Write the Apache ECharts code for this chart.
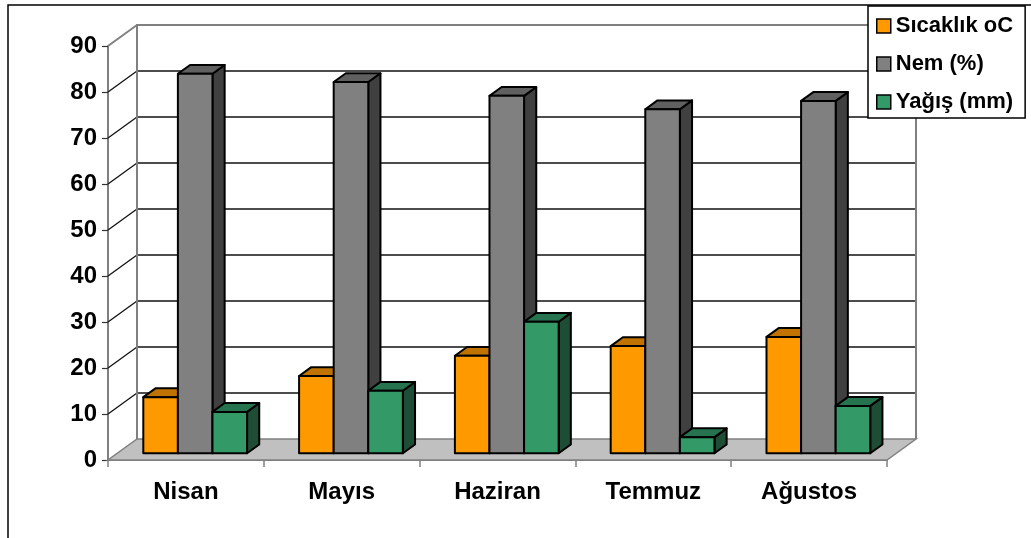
<!DOCTYPE html>
<html>
<head>
<meta charset="utf-8">
<script src="https://cdn.jsdelivr.net/npm/echarts@6/dist/echarts.min.js"></script>
<style>
  html, body { margin: 0; padding: 0; background: #fff; }
  #chart { width: 1031px; height: 538px; }
</style>
</head>
<body>
<div id="chart"></div>
<script>
// values
var months = ['Nisan', 'Mayıs', 'Haziran', 'Temmuz', 'Ağustos'];
var sicaklik = [12.2, 16.8, 21.2, 23.3, 25.3];
var nem = [82.5, 80.7, 77.7, 74.8, 76.6];
var yagis = [9.0, 13.6, 28.6, 3.5, 10.3];
var seriesNames = ['Sıcaklık oC', 'Nem (%)', 'Yağış (mm)'];
var yMin = 0, yMax = 90, yStep = 10;

// face colours: front, top, side
var faces = [
  ['#FF9900', '#C07300', '#8A5300'],
  ['#808080', '#606060', '#404040'],
  ['#339966', '#267350', '#1E4D35']
];

// 3d projection of the box (pixel offset of full depth)
var DX = 29, DY = -21;
var F0 = 0.32, F1 = 0.74;   // bar front / back depth
var FONT = '"Liberation Sans", Arial, sans-serif';

var chart = echarts.init(document.getElementById('chart'));

function barRenderer(s) {
  return function (params, api) {
    var cat = api.value(0);
    var val = api.value(1);
    var base = api.coord([cat, 0]);
    var top = api.coord([cat, val]);
    var bw = api.size([1, 0])[0];
    var barW = bw * 0.222;
    var x0 = base[0] - 1.5 * barW + s * barW;
    var x1 = x0 + barW;
    var y0 = base[1], yt = top[1];
    var c = faces[s];
    var ls = { stroke: '#000', lineWidth: 2, lineJoin: 'round' };
    return {
      type: 'group',
      children: [
        { type: 'polygon', shape: { points: [
            [x1 + F0 * DX, yt + F0 * DY], [x1 + F1 * DX, yt + F1 * DY],
            [x1 + F1 * DX, y0 + F1 * DY], [x1 + F0 * DX, y0 + F0 * DY]] },
          style: Object.assign({ fill: c[2] }, ls) },
        { type: 'polygon', shape: { points: [
            [x0 + F0 * DX, yt + F0 * DY], [x1 + F0 * DX, yt + F0 * DY],
            [x1 + F1 * DX, yt + F1 * DY], [x0 + F1 * DX, yt + F1 * DY]] },
          style: Object.assign({ fill: c[1] }, ls) },
        { type: 'rect', shape: { x: x0 + F0 * DX, y: yt + F0 * DY, width: barW, height: y0 - yt },
          style: Object.assign({ fill: c[0] }, ls) }
      ]
    };
  };
}

function wallRenderer(params, api) {
  var bw = api.size([1, 0])[0];
  var xL = api.coord([0, 0])[0] - bw / 2;
  var xR = api.coord([months.length - 1, 0])[0] + bw / 2;
  var yb = api.coord([0, yMin])[1];
  var yt = api.coord([0, yMax])[1];
  var kids = [];
  // floor
  kids.push({ type: 'polygon', shape: { points: [[xL, yb], [xR, yb], [xR + DX, yb + DY], [xL + DX, yb + DY]] },
    style: { fill: '#C0C0C0', stroke: '#808080', lineWidth: 1.5 } });
  // back wall grid + side wall diagonals
  for (var v = yMin; v <= yMax; v += yStep) {
    var y = api.coord([0, v])[1];
    if (v > yMin && v < yMax) {
      kids.push({ type: 'line', shape: { x1: xL + DX, y1: y + DY, x2: xR + DX, y2: y + DY },
        style: { stroke: '#111', lineWidth: 1.3 } });
    }
    if (v > yMin) {
      kids.push({ type: 'line', shape: { x1: xL, y1: y, x2: xL + DX, y2: y + DY },
        style: { stroke: v === yMax ? '#808080' : '#111', lineWidth: v === yMax ? 2 : 1.3 } });
    }
  }
  // wall edges
  kids.push({ type: 'polyline', shape: { points: [[xL + DX, yb + DY], [xL + DX, yt + DY], [xR + DX, yt + DY], [xR + DX, yb + DY]] },
    style: { stroke: '#808080', lineWidth: 2, fill: null } });
  return { type: 'group', children: kids };
}

var bars = [sicaklik, nem, yagis].map(function (arr, s) {
  return {
    name: seriesNames[s],
    type: 'custom',
    z: 3,
    itemStyle: { color: faces[s][0] },
    renderItem: barRenderer(s),
    encode: { x: 0, y: 1 },
    data: arr.map(function (v, i) { return [i, v]; })
  };
});

chart.setOption({
  animation: false,
  textStyle: { fontFamily: FONT },
  graphic: [{
    type: 'rect', z: -10,
    shape: { x: 8, y: 5, width: 1100, height: 600 },
    style: { fill: null, stroke: '#000', lineWidth: 1.5 }
  }],
  grid: { left: 108, right: 144, top: 46, bottom: 78 },
  legend: {
    orient: 'vertical',
    left: 868, top: 6,
    data: seriesNames,
    backgroundColor: '#fff',
    borderColor: '#000', borderWidth: 1.5,
    padding: [9, 12, 5, 8],
    itemWidth: 14, itemHeight: 14, itemGap: 16,
    icon: 'rect',
    itemStyle: { borderColor: '#000', borderWidth: 1.5 },
    textStyle: { fontFamily: FONT, fontWeight: 'bold', fontSize: 22, lineHeight: 20, color: '#000' }
  },
  xAxis: {
    type: 'category',
    data: months,
    axisLine: { lineStyle: { color: '#808080', width: 2 } },
    axisTick: { show: true, length: 7, lineStyle: { color: '#808080', width: 1.5 } },
    axisLabel: { color: '#000', fontWeight: 'bold', fontSize: 24, margin: 20, fontFamily: FONT },
    splitLine: { show: false }
  },
  yAxis: {
    type: 'value',
    min: yMin, max: yMax, interval: yStep,
    axisLine: { show: true, lineStyle: { color: '#808080', width: 2 } },
    axisTick: { show: true, length: 6, lineStyle: { color: '#333', width: 1.2 } },
    axisLabel: { color: '#000', fontWeight: 'bold', fontSize: 24, margin: 11, fontFamily: FONT },
    splitLine: { show: false }
  },
  series: [{
    name: 'walls',
    type: 'custom',
    z: 1,
    silent: true,
    renderItem: wallRenderer,
    encode: { x: 0, y: 1 },
    data: [[0, 0]]
  }].concat(bars)
});
</script>
</body>
</html>
